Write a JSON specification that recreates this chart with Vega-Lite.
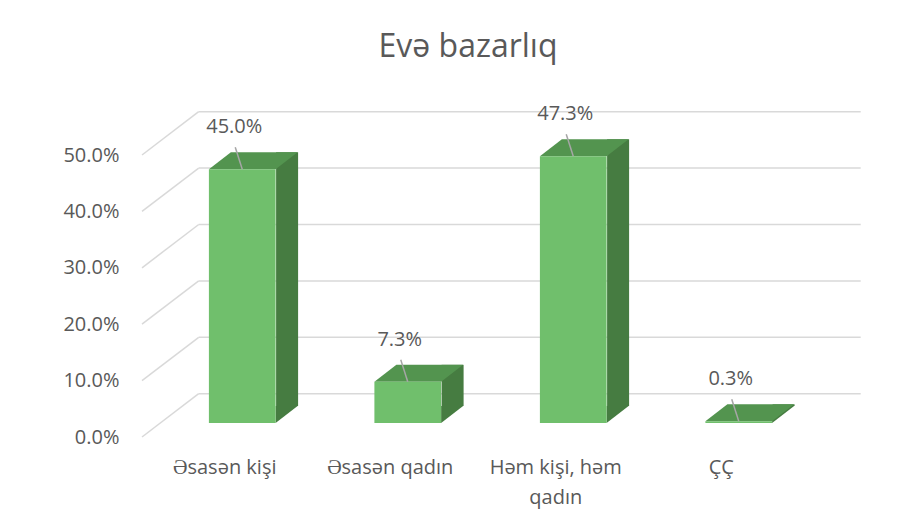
{
  "$schema": "https://vega.github.io/schema/vega-lite/v6.json",
  "autosize": "none",
  "width": 662,
  "height": 282,
  "padding": {"left": 142, "top": 155, "right": 111, "bottom": 95},
  "background": "white",
  "title": {
    "text": "Evə bazarlıq",
    "font": "Open Sans",
    "fontSize": 32,
    "fontWeight": "normal",
    "color": "#595959",
    "anchor": "middle",
    "dx": -5,
    "offset": 40
  },
  "config": {
    "view": {"stroke": null},
    "font": "Open Sans"
  },
  "data": {
    "values": [
      {"category": "Əsasən kişi", "value": 0.45},
      {"category": "Əsasən qadın", "value": 0.073},
      {"category": "Həm kişi, həm qadın", "value": 0.473},
      {"category": "ÇÇ", "value": 0.003}
    ]
  },
  "encoding": {
    "x": {
      "field": "category",
      "type": "nominal",
      "sort": null,
      "scale": {"paddingInner": 0, "paddingOuter": 0},
      "axis": {
        "title": null,
        "labelAngle": 0,
        "ticks": false,
        "domain": false,
        "labelFont": "Open Sans",
        "labelFontSize": 20,
        "labelColor": "#595959",
        "labelPadding": 20,
        "labelLineHeight": 30,
        "labelLimit": 300,
        "labelExpr": "datum.label == 'Həm kişi, həm qadın' ? ['Həm kişi, həm', 'qadın'] : datum.label"
      }
    }
  },
  "layer": [
    {
      "mark": {"type": "rule", "color": "#D9D9D9", "strokeWidth": 1.5, "xOffset": 56.7, "x2Offset": 56.7, "yOffset": -43.3, "y2Offset": -43.3},
      "data": {"values": [{"v": 0}, {"v": 0.1}, {"v": 0.2}, {"v": 0.3}, {"v": 0.4}, {"v": 0.5}]},
      "encoding": {
        "x": {"value": 0},
        "x2": {"value": 662},
        "y": {
          "field": "v",
          "type": "quantitative",
          "scale": {"domain": [0, 0.5], "nice": false},
          "axis": {
            "title": null,
            "values": [0, 0.1, 0.2, 0.3, 0.4, 0.5],
            "format": ".1%",
            "ticks": false,
            "domain": false,
            "grid": false,
            "labelFont": "Open Sans",
            "labelFontSize": 20,
            "labelColor": "#595959",
            "labelPadding": 23
          }
        }
      }
    },
    {
      "mark": {"type": "rule", "color": "#D9D9D9", "strokeWidth": 1.5, "x2Offset": 56.7, "y2Offset": -43.3},
      "data": {"values": [{"v": 0}, {"v": 0.1}, {"v": 0.2}, {"v": 0.3}, {"v": 0.4}, {"v": 0.5}]},
      "encoding": {
        "x": {"value": 0},
        "x2": {"value": 0},
        "y": {"field": "v", "type": "quantitative"},
        "y2": {"field": "v"}
      }
    },
    {
      "mark": {"type": "bar", "color": "#467C41", "width": 22, "xOffset": 62.35, "yOffset": -31, "y2Offset": -31},
      "encoding": {
        "y": {"field": "value", "type": "quantitative", "stack": null},
        "y2": {"datum": 0}
      }
    },
    {
      "mark": {"type": "point", "filled": true, "opacity": 1, "strokeWidth": 0, "color": "#467C41", "size": 4, "shape": "M0,0L22,-17L0,-17Z", "xOffset": 50.85, "yOffset": -14},
      "encoding": {
        "y": {"datum": 0, "type": "quantitative"}
      }
    },
    {
      "mark": {"type": "point", "filled": true, "opacity": 1, "strokeWidth": 0, "color": "#53944F", "size": 4, "shape": "M0,0L66.7,0L88.7,-17L22,-17Z", "xOffset": -15.85, "yOffset": -14},
      "encoding": {
        "y": {"field": "value", "type": "quantitative"}
      }
    },
    {
      "mark": {"type": "bar", "color": "#70BF6C", "width": 66.7, "xOffset": 17.5, "yOffset": -14, "y2Offset": -14},
      "encoding": {
        "y": {"field": "value", "type": "quantitative", "stack": null},
        "y2": {"datum": 0}
      }
    },
    {
      "mark": {"type": "rule", "color": "#A6A6A6", "strokeWidth": 1.5, "xOffset": 17.5, "yOffset": -14, "x2Offset": 10.5, "y2Offset": -36},
      "encoding": {
        "x2": {"field": "category"},
        "y": {"field": "value", "type": "quantitative"},
        "y2": {"field": "value"}
      }
    },
    {
      "mark": {"type": "text", "font": "Open Sans", "fontSize": 20, "color": "#595959", "baseline": "middle", "align": "center", "xOffset": 17.5, "yOffset": -14, "dx": -8, "dy": -42},
      "encoding": {
        "y": {"field": "value", "type": "quantitative"},
        "text": {"field": "value", "type": "quantitative", "format": ".1%"}
      }
    }
  ]
}
